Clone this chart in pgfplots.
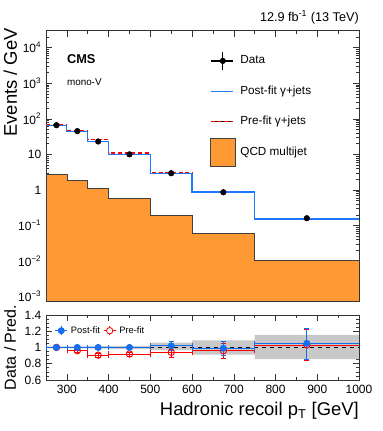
\documentclass[border=0pt]{standalone}
\usepackage{fontspec}
\setmainfont{Liberation Sans}
\usepackage{pgfplots}
\usepackage{pgfplotstable}
\pgfplotsset{compat=1.18}
\usetikzlibrary{calc}
\definecolor{postblue}{RGB}{30,120,255}
\definecolor{ratblue}{RGB}{20,110,240}
\definecolor{qcdorange}{RGB}{255,153,51}
\definecolor{bandgrey}{RGB}{200,200,200}

% step histograms: left edge, value (last row repeats at right edge)
\pgfplotstableread{
x    post   pre    qcd
250  66     67     2.8
300  45     46.9   1.9
350  23     25.4   1.1
400  10     10.9   0.58
500  2.89   3.14   0.19
600  0.87   0.90   0.059
750  0.152  0.155  0.0102
1000 0.152  0.155  0.0102
}\hist
\pgfplotstableread{
x    y     ey
275  66    0.8
325  45    0.7
375  23    0.5
450  10    0.25
550  2.95  0.18
675  0.86  0.08
875  0.16  0.03
}\datapts
\pgfplotstableread{
x    ex   rpost  rpre   ey
275  25   1.00   1.00   0.012
325  25   1.00   0.96   0.015
375  25   1.00   0.905  0.02
450  50   1.00   0.92   0.025
550  50   1.02   0.94   0.06
675  75   0.99   0.96   0.09
875  125  1.05   1.03   0.19
}\ratio

\begin{document}
\begin{tikzpicture}
\pgfplotsset{
  every axis/.append style={
    scale only axis, width=234.75pt,
    xmin=250, xmax=1000,
    tick align=inside, xtick pos=both, ytick pos=both,
    major tick length=4.5pt, minor tick length=2.5pt,
    axis line style={black!80}, every tick/.style={black!80},
    tick label style={font=\fontsize{9}{10}\selectfont},
    /pgf/number format/assume math mode=true,
    /pgf/number format/1000 sep={},
    xtick={300,400,...,1000}, minor x tick num=1,
  }
}
\begin{axis}[name=top, height=202.7pt,
  ymode=log, ymin=7.57e-4, ymax=3e4,
  xticklabels={},
  ytick={1e-3,1e-2,1e-1,1,10,100,1000,10000},
  yticklabels={10\textsuperscript{−3},10\textsuperscript{−2},10\textsuperscript{−1},1,10,10\textsuperscript{2},10\textsuperscript{3},10\textsuperscript{4}},
  minor ytick={8e-4,9e-4,2e-3,3e-3,4e-3,5e-3,6e-3,7e-3,8e-3,9e-3,2e-2,3e-2,4e-2,5e-2,6e-2,7e-2,8e-2,9e-2,0.2,0.3,0.4,0.5,0.6,0.7,0.8,0.9,2,3,4,5,6,7,8,9,20,30,40,50,60,70,80,90,200,300,400,500,600,700,800,900,2000,3000,4000,5000,6000,7000,8000,9000,20000,30000},
  legend style={at={(rel axis cs:0.512,0.92)}, anchor=north west, draw=none, fill=none,
    font=\fontsize{8.8}{10}\selectfont, row sep=14.3pt, column sep=5pt,
    nodes={inner sep=0pt, text height=6.5pt, text depth=2pt}},
  legend cell align=left,
]
\addplot[qcdorange, fill=qcdorange, draw=black!75, line width=0.5pt, const plot, forget plot]
  coordinates {(250,1e-5) (250,2.8) (300,1.9) (350,1.1) (400,0.58) (500,0.19) (600,0.059) (750,0.0102) (1000,0.0102) (1000,1e-5)};
\addplot[red, line width=0.8pt, dash pattern=on 3pt off 2pt, const plot, forget plot] table[x=x,y=pre] {\hist};
\addplot[postblue, line width=0.9pt, const plot, forget plot] table[x=x,y=post] {\hist};
\addplot[black, only marks, mark=*, mark size=2.1pt, forget plot,
  error bars/.cd, y dir=both, y explicit, error bar style={black, line width=0.6pt}, error mark=none]
  table[x=x, y=y, y error=ey] {\datapts};
% legend entries
\addlegendimage{legend image code/.code={
  \path (0pt,0pt) -- (17pt,0pt);
  \draw[overlay, black, line width=0.6pt] (0pt,0pt) -- (17pt,0pt) (9pt,-6.75pt) -- (9pt,6.75pt);
  \fill[overlay, black] (9pt,0pt) circle (2.1pt);}}
\addlegendentry{Data}
\addlegendimage{legend image code/.code={
  \path (0pt,0pt) -- (17pt,0pt);
  \draw[overlay, postblue, line width=0.9pt] (0pt,0pt) -- (17pt,0pt);}}
\addlegendentry{Post-fit γ+jets}
\addlegendimage{legend image code/.code={
  \path (0pt,0pt) -- (17pt,0pt);
  \draw[overlay, red, line width=0.8pt, dash pattern=on 3pt off 2pt] (0pt,0pt) -- (17pt,0pt);}}
\addlegendentry{Pre-fit γ+jets}
\addlegendimage{legend image code/.code={
  \path (0pt,0pt) -- (17pt,0pt);
  \draw[overlay, fill=qcdorange, draw=black!75, line width=0.5pt] (0pt,-10.5pt) rectangle (18.5pt,10.5pt);}}
\addlegendentry{QCD multijet}
\end{axis}

\node[anchor=base east, inner sep=0pt, font=\fontsize{9.5}{10}\selectfont] at ($(top.north east)+(0,6.5pt)$) {12.9 fb\textsuperscript{-1} (13 TeV)};
\node[anchor=base west, inner sep=0pt, font=\bfseries\fontsize{9.6}{10}\selectfont] at ($(top.north west)+(15.6pt,-25pt)$) {CMS};
\node[anchor=base west, inner sep=0pt, font=\fontsize{7.4}{8}\selectfont] at ($(top.north west)+(15.6pt,-41.5pt)$) {mono-V};
\node[rotate=90, anchor=north east, inner sep=0pt, font=\fontsize{13.8}{14}\selectfont] at ($(top.north west)+(-32pt,2pt)$) {Events / GeV};

\begin{axis}[name=bot, at={($(top.south west)+(0,-10.5pt)$)}, anchor=north west,
  height=48.75pt, ymin=0.6, ymax=1.4,
  ytick={0.6,0.8,1,1.2,1.4}, yticklabels={0.6,0.8,1,1.2,1.4}, minor y tick num=3,
  legend style={at={(rel axis cs:0.015,0.88)}, anchor=north west, draw=none, fill=none,
    font=\fontsize{7}{8}\selectfont, column sep=2pt, legend columns=2,
    nodes={inner sep=0.5pt}},
  legend cell align=left,
]
\addplot[fill=bandgrey, draw=none, forget plot] coordinates {
 (250,1.012) (350,1.012) (350,1.015) (400,1.015) (400,1.02) (500,1.02) (500,1.06) (600,1.06)
 (600,1.086) (750,1.086) (750,1.156) (1000,1.156) (1000,0.857) (750,0.857) (750,0.91) (600,0.91)
 (600,0.963) (500,0.963) (500,0.98) (400,0.98) (400,0.985) (350,0.985) (350,0.988) (250,0.988)} -- cycle;
\addplot[black, dashed, line width=0.8pt, forget plot] coordinates {(250,1) (1000,1)};
\addplot[red, only marks, mark=o, mark size=2.4pt, mark options={line width=0.7pt, fill=white}, forget plot,
  error bars/.cd, x dir=both, x explicit, y dir=both, y explicit, error bar style={red, line width=0.6pt}, error mark options={rotate=90, mark size=2pt, red}]
  table[x=x, y=rpre, x error=ex, y error=ey] {\ratio};
\addplot[ratblue, only marks, mark=*, mark size=2.4pt, forget plot,
  error bars/.cd, x dir=both, x explicit, y dir=both, y explicit, error bar style={ratblue, line width=0.6pt}, error mark options={rotate=90, mark size=2pt, ratblue}]
  table[x=x, y=rpost, x error=ex, y error=ey] {\ratio};
\addlegendimage{legend image code/.code={
  \draw[ratblue, line width=0.5pt] (0pt,0pt) -- (9pt,0pt) (4.5pt,-3.5pt) -- (4.5pt,3.5pt);
  \fill[ratblue] (4.5pt,0pt) circle (2.4pt);}}
\addlegendentry{Post-fit}
\addlegendimage{legend image code/.code={
  \draw[red, line width=0.5pt] (0pt,0pt) -- (9pt,0pt) (4.5pt,-3.5pt) -- (4.5pt,3.5pt);
  \draw[red, fill=white, line width=0.6pt] (4.5pt,0pt) circle (2.4pt);}}
\addlegendentry{Pre-fit}
\end{axis}
\node[rotate=90, anchor=north, inner sep=0pt, font=\fontsize{12}{13}\selectfont] at ($(bot.west)+(-31.5pt,0)$) {Data / Pred.};
\node[anchor=base east, inner sep=0pt, font=\fontsize{13.8}{14}\selectfont] at ($(bot.south east)+(0,-27pt)$) {Hadronic recoil p\textsubscript{T} [GeV]};

\pgfresetboundingbox
\path ($(top.north west)+(-34.5pt,23pt)$) rectangle ($(top.north west)+(252pt,-300.25pt)$);
\end{tikzpicture}
\end{document}
